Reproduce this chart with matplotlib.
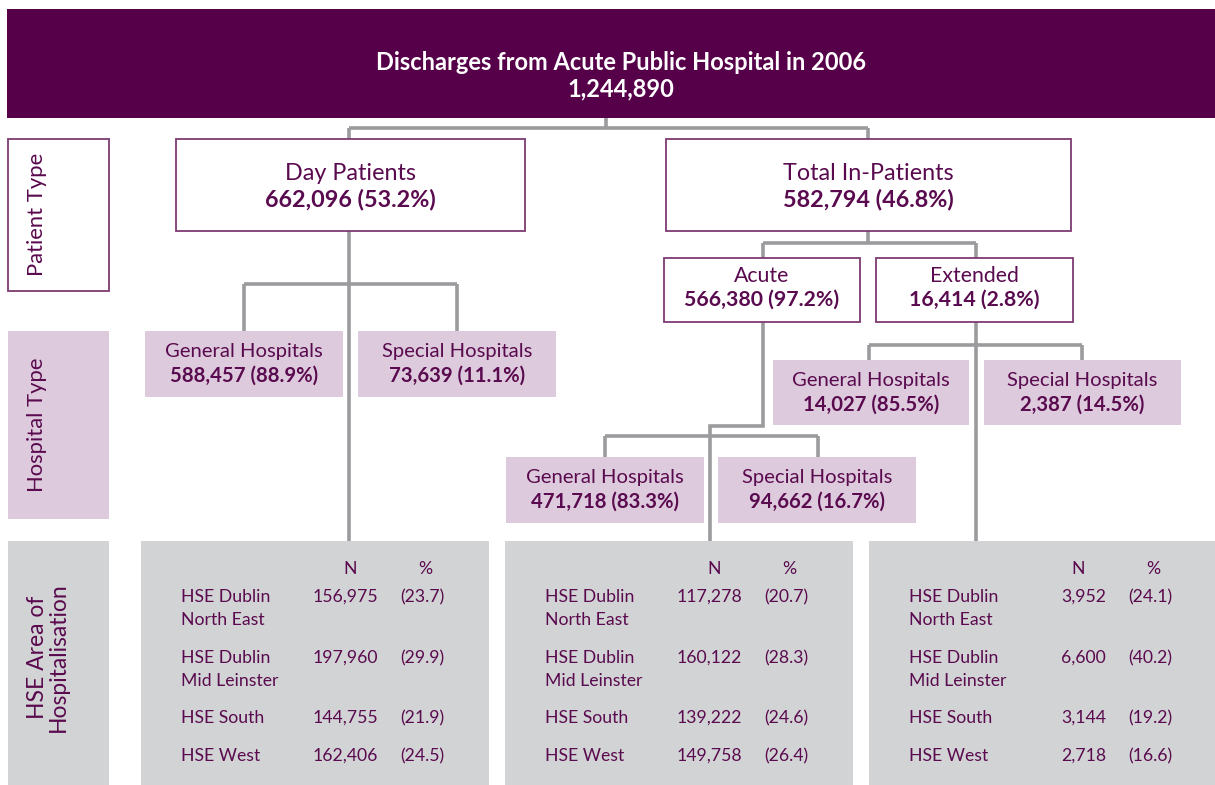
import matplotlib
matplotlib.use("Agg")
import matplotlib.pyplot as plt
from matplotlib.patches import Rectangle

plt.rcParams['font.family'] = ['Lato', 'DejaVu Sans']

# ---------------- data ----------------
title_text = "Discharges from Acute Public Hospital in 2006"
total_discharges = "1,244,890"

level_labels = ["Patient Type", "Hospital Type", "HSE Area of\nHospitalisation"]

patient_types = ["Day Patients", "Total In-Patients"]
patient_values = ["662,096 (53.2%)", "582,794 (46.8%)"]

inpatient_types = ["Acute", "Extended"]
inpatient_values = ["566,380 (97.2%)", "16,414 (2.8%)"]

hospital_types = ["General Hospitals", "Special Hospitals"]
day_hosp_values = ["588,457 (88.9%)", "73,639 (11.1%)"]
acute_hosp_values = ["471,718 (83.3%)", "94,662 (16.7%)"]
ext_hosp_values = ["14,027 (85.5%)", "2,387 (14.5%)"]

hse_areas = ["HSE Dublin\nNorth East", "HSE Dublin\nMid Leinster", "HSE South", "HSE West"]
day_n = ["156,975", "197,960", "144,755", "162,406"]
day_pct = ["(23.7)", "(29.9)", "(21.9)", "(24.5)"]
acute_n = ["117,278", "160,122", "139,222", "149,758"]
acute_pct = ["(20.7)", "(28.3)", "(24.6)", "(26.4)"]
ext_n = ["3,952", "6,600", "3,144", "2,718"]
ext_pct = ["(24.1)", "(40.2)", "(19.2)", "(16.6)"]

# ---------------- style ----------------
DARK = "#57004A"
TXT = "#5A0A4E"
BORDER = "#7E3A73"
MAUVE = "#DDCBDD"
GRAY = "#D2D3D5"
LINE = "#9B9B9D"

W, H = 1215, 785
fig = plt.figure(figsize=(W / 100, H / 100), dpi=100)
ax = fig.add_axes([0, 0, 1, 1])
ax.set_xlim(0, W)
ax.set_ylim(H, 0)
ax.axis("off")


def rect(x0, y0, x1, y1, fc, ec=None, lw=1.3, z=2):
    ax.add_patch(Rectangle((x0, y0), x1 - x0, y1 - y0, facecolor=fc,
                           edgecolor=ec if ec else "none", linewidth=lw, zorder=z))


def line(xs, ys):
    ax.plot(xs, ys, color=LINE, lw=2.6, solid_capstyle="butt",
            solid_joinstyle="miter", zorder=1)


def two_line_box(x0, y0, x1, y1, top, bottom, fc, ec=None, size=14, gap=12, dy=0):
    rect(x0, y0, x1, y1, fc, ec)
    cx = (x0 + x1) / 2
    cy = (y0 + y1) / 2 + dy
    ax.text(cx, cy - gap, top, ha="center", va="center", color=TXT,
            fontsize=size, zorder=3)
    ax.text(cx, cy + gap, bottom, ha="center", va="center", color=TXT,
            fontsize=size, fontweight="bold", zorder=3)


# ---------------- title ----------------
rect(7, 9, W, 118, DARK)
ax.text(621, 62, title_text, ha="center", va="center", color="white",
        fontsize=17, fontweight="bold", zorder=3)
ax.text(621, 89, total_discharges, ha="center", va="center", color="white",
        fontsize=17, fontweight="bold", zorder=3)

# ---------------- connectors ----------------
line([606, 606], [118, 128])
line([349, 868], [128, 128])
line([349, 349], [128, 139])
line([868, 868], [128, 139])

# Day patients
line([349, 349], [231, 541])
line([244, 457], [284, 284])
line([244, 244], [284, 331])
line([457, 457], [284, 331])

# In-patients
line([868, 868], [231, 243])
line([763, 976], [243, 243])
line([763, 763], [243, 258])
line([976, 976], [243, 258])

# Extended
line([976, 976], [322, 541])
line([869, 1082], [345, 345])
line([869, 869], [345, 360])
line([1082, 1082], [345, 360])

# Acute
line([763, 763, 710, 710], [322, 426, 426, 541])
line([605, 818], [436, 436])
line([605, 605], [436, 457])
line([818, 818], [436, 457])

# ---------------- side labels ----------------
rect(8, 139, 109, 291, "white", BORDER)
ax.text(37, 214, level_labels[0], rotation=90, ha="center", va="center",
        color=TXT, fontsize=15.8, zorder=3)
rect(8, 331, 109, 519, MAUVE)
ax.text(37, 425, level_labels[1], rotation=90, ha="center", va="center",
        color=TXT, fontsize=15.8, zorder=3)
rect(8, 541, 109, H + 2, GRAY)
ax.text(48, 657, level_labels[2], rotation=90, ha="center", va="center",
        color=TXT, fontsize=16.5, linespacing=1.0, zorder=3)

# ---------------- patient type boxes ----------------
two_line_box(176, 139, 525, 231, patient_types[0], patient_values[0], "white", BORDER, size=16.8, gap=13, dy=1)
two_line_box(666, 139, 1071, 231, patient_types[1], patient_values[1], "white", BORDER, size=16.8, gap=13, dy=1)

# ---------------- in-patient type boxes ----------------
two_line_box(664, 258, 860, 322, inpatient_types[0], inpatient_values[0], "white", BORDER, size=15.3, gap=11.5, dy=-2)
two_line_box(876, 258, 1073, 322, inpatient_types[1], inpatient_values[1], "white", BORDER, size=15.3, gap=11.5, dy=-2)

# ---------------- hospital type boxes ----------------
for (x0, x1), lab, val in zip([(145, 343), (358, 556)], hospital_types, day_hosp_values):
    two_line_box(x0, 331, x1, 397, lab, val, MAUVE, size=14.6, gap=12)
for (x0, x1), lab, val in zip([(773, 969), (984, 1181)], hospital_types, ext_hosp_values):
    two_line_box(x0, 360, x1, 425, lab, val, MAUVE, size=14.6, gap=12)
for (x0, x1), lab, val in zip([(506, 704), (718, 916)], hospital_types, acute_hosp_values):
    two_line_box(x0, 457, x1, 523, lab, val, MAUVE, size=14.6, gap=12)

# ---------------- HSE tables ----------------
row_y = [597, 658, 718, 756]
tables = [(141, 489, day_n, day_pct), (505, 853, acute_n, acute_pct),
          (869, W + 2, ext_n, ext_pct)]
for x0, x1, ns, ps in tables:
    rect(x0, 541, x1, H + 2, GRAY)
    ax.text(x0 + 209, 569, "N", ha="center", va="center", color=TXT, fontsize=12.7, zorder=3)
    ax.text(x0 + 284, 569, "%", ha="center", va="center", color=TXT, fontsize=12.7, zorder=3)
    for y, area, n, p in zip(row_y, hse_areas, ns, ps):
        for k, part in enumerate(area.split("\n")):
            ax.text(x0 + 40, y + 23 * k, part, ha="left", va="center", color=TXT,
                    fontsize=12.7, zorder=3)
        ax.text(x0 + 237, y, n, ha="right", va="center", color=TXT, fontsize=12.7, zorder=3)
        ax.text(x0 + 259, y, p, ha="left", va="center", color=TXT, fontsize=12.7, zorder=3)

fig.savefig("out.png", dpi=100, facecolor="white")
